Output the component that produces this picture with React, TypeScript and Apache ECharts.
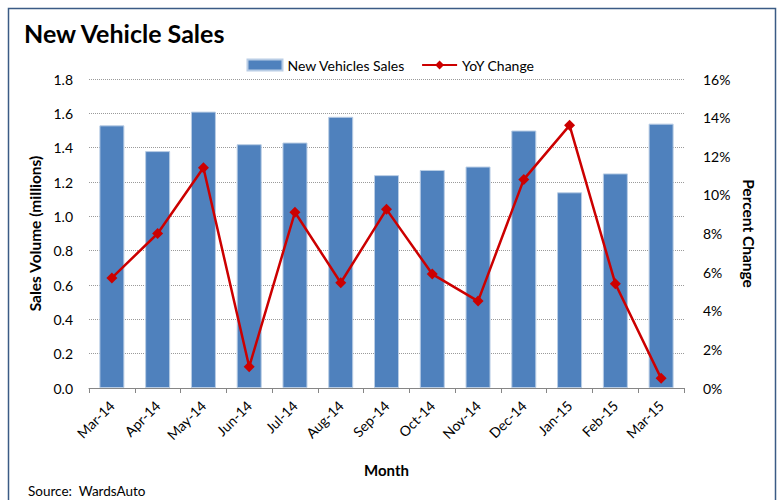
import React, { useEffect, useRef } from "react";
import * as echarts from "echarts";

const months = ["Mar-14", "Apr-14", "May-14", "Jun-14", "Jul-14", "Aug-14", "Sep-14", "Oct-14", "Nov-14", "Dec-14", "Jan-15", "Feb-15", "Mar-15"];
const salesMillions = [1.53, 1.38, 1.61, 1.42, 1.43, 1.58, 1.24, 1.27, 1.29, 1.5, 1.14, 1.25, 1.54];
const yoyChangePct = [5.7, 8.0, 11.4, 1.1, 9.1, 5.45, 9.25, 5.9, 4.5, 10.8, 13.6, 5.4, 0.5];

const FONT = "Lato, 'Open Sans', sans-serif";

export default function App() {
  const ref = useRef<HTMLDivElement>(null);
  useEffect(() => {
    document.body.style.margin = "0";
    const chart = echarts.init(ref.current!, null, { renderer: "svg" });
    chart.setOption({
      animation: false,
      backgroundColor: "#ffffff",
      textStyle: { fontFamily: FONT },
      title: {
        text: "New Vehicle Sales",
        left: 19,
        top: 15,
        textStyle: { fontFamily: FONT, fontSize: 25, fontWeight: "bold", color: "#000" },
      },
      legend: {
        top: 53,
        left: "center",
        itemGap: 16,
        itemWidth: 35,
        itemHeight: 11,
        textStyle: { fontFamily: FONT, fontSize: 14, color: "#000" },
        data: [
          { name: "New Vehicles Sales", icon: "rect" },
          { name: "YoY Change" },
        ],
      },
      grid: { left: 89, right: 97, top: 79, bottom: 112, containLabel: false },
      xAxis: {
        type: "category",
        data: months,
        name: "Month",
        nameLocation: "middle",
        nameGap: 74,
        nameTextStyle: { fontFamily: FONT, fontSize: 15, fontWeight: "bold", color: "#000" },
        axisLine: { lineStyle: { color: "#868686", width: 1 } },
        axisTick: { show: true, length: 5, lineStyle: { color: "#868686" } },
        axisLabel: { rotate: 45, fontSize: 14, color: "#000", margin: 15, fontFamily: FONT },
      },
      yAxis: [
        {
          type: "value",
          min: 0,
          max: 1.8,
          interval: 0.2,
          name: "Sales Volume (millions)",
          nameLocation: "middle",
          nameGap: 46,
          nameRotate: 90,
          nameTextStyle: { fontFamily: FONT, fontSize: 15.5, fontWeight: "bold", color: "#000" },
          axisLine: { show: false },
          axisTick: { show: false },
          axisLabel: { fontSize: 14, color: "#000", margin: 16, formatter: (v: number) => v.toFixed(1), fontFamily: FONT },
          splitLine: { show: true, lineStyle: { color: "#9a9a9a", type: "dotted", width: 1 } },
        },
        {
          type: "value",
          min: 0,
          max: 16,
          interval: 2,
          name: "Percent Change",
          nameLocation: "middle",
          nameGap: 56,
          nameRotate: -90,
          nameTextStyle: { fontFamily: FONT, fontSize: 15.5, fontWeight: "bold", color: "#000" },
          axisLine: { show: false },
          axisTick: { show: false },
          axisLabel: { fontSize: 14, color: "#000", margin: 19, formatter: "{value}%", fontFamily: FONT },
          splitLine: { show: false },
        },
      ],
      series: [
        {
          name: "New Vehicles Sales",
          type: "bar",
          data: salesMillions,
          barWidth: 25,
          itemStyle: { color: "#4f81bd", borderColor: "#b9cde5", borderWidth: 1 },
        },
        {
          name: "YoY Change",
          type: "line",
          yAxisIndex: 1,
          data: yoyChangePct,
          symbol: "diamond",
          symbolSize: 11,
          lineStyle: { color: "#cc0000", width: 2.5 },
          itemStyle: { color: "#cc0000" },
        },
      ],
      graphic: [
        {
          type: "rect",
          shape: { x: 8.5, y: 8.5, width: 767, height: 520 },
          style: { fill: "none", stroke: "#3b5b85", lineWidth: 1.5 },
          silent: true,
        },
        {
          type: "text",
          left: 28,
          top: 484,
          style: { text: "Source:  WardsAuto", fontFamily: FONT, fontSize: 13.5, fill: "#000" },
        },
      ],
    });
    return () => chart.dispose();
  }, []);
  return <div ref={ref} style={{ width: 781, height: 500 }} />;
}
